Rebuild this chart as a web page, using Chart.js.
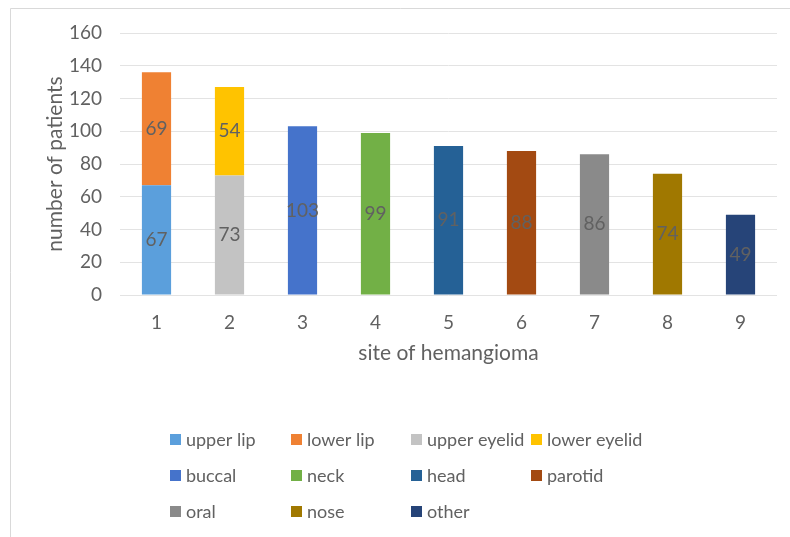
<!DOCTYPE html>
<html>
<head>
<meta charset="utf-8">
<script src="https://cdn.jsdelivr.net/npm/chart.js@4/dist/chart.umd.min.js"></script>
<style>
  html, body { margin: 0; padding: 0; background: #fff; }
  #wrap { position: relative; width: 790px; height: 537px; }
</style>
</head>
<body>
<div id="wrap"><canvas id="site-bar"></canvas></div>
<script>
const categories = ['1', '2', '3', '4', '5', '6', '7', '8', '9'];
const seriesNames = ['upper lip', 'lower lip', 'upper eyelid', 'lower eyelid', 'buccal', 'neck', 'head', 'parotid', 'oral', 'nose', 'other'];
const seriesSite = [1, 1, 2, 2, 3, 4, 5, 6, 7, 8, 9];
const seriesCounts = [67, 69, 73, 54, 103, 99, 91, 88, 86, 74, 49];
const seriesColors = ['#5b9fdc', '#ef8133', '#c3c3c3', '#ffc300', '#4573cb', '#72b046', '#256196', '#a34a12', '#8a8a8a', '#a07800', '#264478'];

const grey = '#616161';
const fontFamily = 'Lato, "Open Sans", sans-serif';

// each series only has a value at its own site
const datasets = seriesNames.map((name, i) => ({
  label: name,
  data: categories.map((c, j) => (j + 1 === seriesSite[i] ? seriesCounts[i] : null)),
  backgroundColor: seriesColors[i],
  borderWidth: 0,
  categoryPercentage: 1,
  barPercentage: 0.4,
}));

const frame = {
  id: 'frame',
  beforeDraw(chart) {
    const ctx = chart.ctx;
    ctx.save();
    ctx.fillStyle = '#fff';
    ctx.fillRect(0, 0, chart.width, chart.height);
    ctx.strokeStyle = '#d9d9d9';
    ctx.lineWidth = 1;
    ctx.beginPath();
    ctx.moveTo(10.5, chart.height);
    ctx.lineTo(10.5, 8.5);
    ctx.lineTo(chart.width, 8.5);
    ctx.stroke();
    ctx.restore();
  },
};

const valueLabels = {
  id: 'valueLabels',
  afterDatasetsDraw(chart) {
    const ctx = chart.ctx;
    ctx.save();
    ctx.font = '19px ' + fontFamily;
    ctx.fillStyle = grey;
    ctx.textAlign = 'center';
    ctx.textBaseline = 'middle';
    chart.data.datasets.forEach((ds, i) => {
      chart.getDatasetMeta(i).data.forEach((bar, j) => {
        if (ds.data[j] == null) return;
        ctx.fillText(String(ds.data[j]), bar.x, (bar.y + bar.base) / 2);
      });
    });
    ctx.restore();
  },
};

// legend in a 4-column grid below the axis
const gridLegend = {
  id: 'gridLegend',
  afterDraw(chart) {
    const ctx = chart.ctx;
    const cols = [170, 291, 411, 531];
    const rows = [439, 475, 511];
    ctx.save();
    ctx.font = '18px ' + fontFamily;
    ctx.textBaseline = 'middle';
    ctx.textAlign = 'left';
    chart.data.datasets.forEach((ds, i) => {
      const x = cols[i % 4];
      const y = rows[Math.floor(i / 4)];
      ctx.fillStyle = ds.backgroundColor;
      ctx.fillRect(x, y - 5, 11, 11);
      ctx.fillStyle = grey;
      ctx.fillText(ds.label, x + 16, y + 1);
    });
    ctx.restore();
  },
};

new Chart(document.getElementById('site-bar'), {
  type: 'bar',
  data: { labels: categories, datasets: datasets },
  plugins: [frame, valueLabels, gridLegend],
  options: {
    responsive: true,
    maintainAspectRatio: false,
    animation: false,
    layout: { padding: { left: 35, top: 33, right: 13, bottom: 167 } },
    plugins: {
      legend: { display: false },
      tooltip: { enabled: false },
    },
    scales: {
      x: {
        stacked: true,
        grid: { display: false, drawTicks: false },
        border: { display: false },
        ticks: { color: grey, font: { size: 19, family: fontFamily }, padding: 16 },
        title: {
          display: true,
          text: 'site of hemangioma',
          color: grey,
          font: { size: 21, family: fontFamily },
          padding: { top: 0, bottom: 4 },
        },
        afterFit: (s) => { s.height = 75; },
      },
      y: {
        stacked: true,
        min: 0,
        max: 160,
        grid: { color: '#e3e3e3', drawTicks: false },
        border: { display: false },
        ticks: { stepSize: 20, color: grey, font: { size: 19, family: fontFamily }, padding: 18 },
        title: {
          display: true,
          text: 'number of patients',
          color: grey,
          font: { size: 21, family: fontFamily },
          padding: { top: 8, bottom: 0 },
        },
        afterFit: (s) => { s.width = 85; },
      },
    },
  },
});
</script>
</body>
</html>
